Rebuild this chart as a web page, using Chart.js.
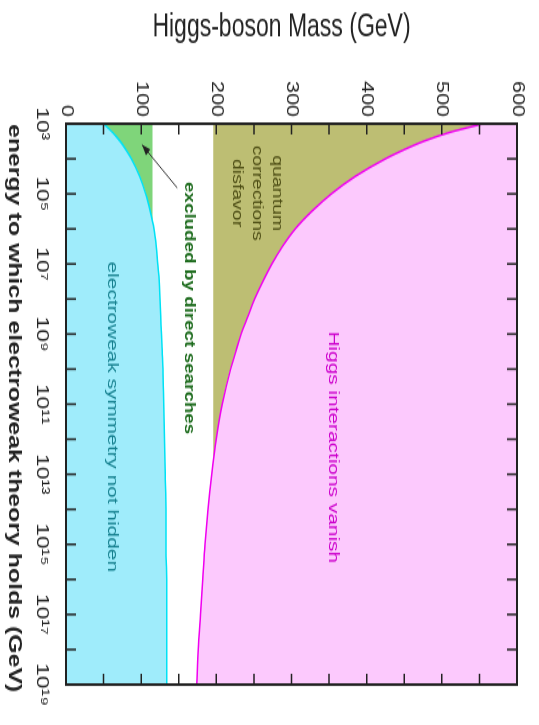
<!DOCTYPE html>
<html>
<head>
<meta charset="utf-8">
<title>Higgs-boson mass bounds</title>
<script src="https://cdn.jsdelivr.net/npm/chart.js@4/dist/chart.umd.min.js"></script>
<style>
  html, body { margin: 0; padding: 0; background: #fff; }
  body { width: 539px; height: 725px; overflow: hidden; position: relative; }
  /* the chart is drawn lying on its side, then turned a quarter and stretched */
  #wrap { position: absolute; left: 0; top: 0; width: 539px; height: 539px;
          transform-origin: 0 0; transform: translateX(539px) rotate(90deg) scaleX(1.345); }
</style>
</head>
<body>
<div id="wrap"><canvas id="higgsChart" width="539" height="539"></canvas></div>
<script>
// energy up to which the theory holds, as powers of ten (GeV)
const energyExp = [3, 3.25, 3.5, 3.75, 4, 4.5, 5, 5.5, 6, 6.5, 7, 7.5, 8, 8.5, 9, 9.5, 10, 11, 12, 13, 14, 15, 16, 17, 18, 19];
// lower bound - below it electroweak symmetry is not hidden
const vacuumMass = [50, 62, 72, 80, 87, 98, 106, 112, 117, 120, 122, 124, 125, 126, 127, 128, 129, 130, 131, 132, 133, 133, 134, 134, 134, 134];
// upper bound - above it the Higgs interactions vanish
const trivialityMass = [555, 510, 476, 449, 425, 385, 353, 327, 305, 288, 274, 262, 251, 242, 233, 226, 219, 208, 200, 194, 189, 185, 182, 179, 176, 174];

// flat limits
const limitExp = [3, 19];
const directSearchMass = [115, 115];
const quantumMass = [196, 196];

// ticks
const massTicks = [0, 100, 200, 300, 400, 500, 600];
const energyTickExp = [3, 4, 5, 6, 7, 8, 9, 10, 11, 12, 13, 14, 15, 16, 17, 18, 19];
const energyLabelExp = [3, 5, 7, 9, 11, 13, 15, 17, 19];
const energyLabels = ['10³', '10⁵', '10⁷', '10⁹', '10¹¹', '10¹³', '10¹⁵', '10¹⁷', '10¹⁹'];

const massTitle = 'Higgs-boson Mass (GeV)';
const energyTitle = 'energy to which electroweak theory holds (GeV)';

const FONT = '"Liberation Sans", Arial, sans-serif';

function pts(exps, masses) {
  return exps.map((e, i) => ({ x: Math.pow(10, e), y: masses[i] }));
}

// labels inside the regions, placed in data units (log10 energy, mass)
const notes = [
  { lines: ['electroweak symmetry not hidden'], e: 11.36, m: 62, color: '#16808f', font: '15.5px ' + FONT },
  { lines: ['excluded by direct searches'], e: 8.26, m: 164, color: '#1d6b1d', font: 'bold 14px ' + FONT },
  { lines: ['quantum', 'corrections', 'disfavor'], e: 4.98, m: 254, color: '#4d4d14', font: '14.5px ' + FONT },
  { lines: ['Higgs interactions vanish'], e: 12.23, m: 355, color: '#cc00cc', font: '15.5px ' + FONT }
];

const decorate = {
  id: 'decorate',
  afterDatasetsDraw(chart) {
    const { ctx, chartArea: a, scales: { x, y } } = chart;
    ctx.save();

    // ticks pointing into the frame
    ctx.strokeStyle = '#222';
    ctx.lineWidth = 1.5;
    ctx.beginPath();
    energyTickExp.forEach(e => {
      const px = x.getPixelForValue(Math.pow(10, e));
      ctx.moveTo(px, a.bottom); ctx.lineTo(px, a.bottom - 10);
      ctx.moveTo(px, a.top); ctx.lineTo(px, a.top + 10);
    });
    y.ticks.forEach(t => {
      const py = y.getPixelForValue(t.value);
      ctx.moveTo(a.left, py); ctx.lineTo(a.left + 8, py);
      ctx.moveTo(a.right, py); ctx.lineTo(a.right - 8, py);
    });
    ctx.stroke();
    ctx.lineWidth = 2;
    ctx.strokeRect(a.left, a.top, a.right - a.left, a.bottom - a.top);

    // arrow from the "excluded" label to the green patch
    const x0 = x.getPixelForValue(Math.pow(10, 4.83)), y0 = y.getPixelForValue(148);
    const x1 = x.getPixelForValue(Math.pow(10, 3.6)), y1 = y.getPixelForValue(101);
    const ang = Math.atan2(y1 - y0, x1 - x0);
    ctx.strokeStyle = '#333';
    ctx.fillStyle = '#222';
    ctx.lineWidth = 1;
    ctx.beginPath(); ctx.moveTo(x0, y0); ctx.lineTo(x1, y1); ctx.stroke();
    ctx.beginPath();
    ctx.moveTo(x1, y1);
    ctx.lineTo(x1 - 9 * Math.cos(ang - 0.35), y1 - 9 * Math.sin(ang - 0.35));
    ctx.lineTo(x1 - 9 * Math.cos(ang + 0.35), y1 - 9 * Math.sin(ang + 0.35));
    ctx.closePath(); ctx.fill();

    // region labels
    ctx.textAlign = 'center';
    ctx.textBaseline = 'middle';
    notes.forEach(n => {
      ctx.font = n.font;
      ctx.fillStyle = n.color;
      const cx = x.getPixelForValue(Math.pow(10, n.e));
      const cy = y.getPixelForValue(n.m);
      n.lines.forEach((s, i) => {
        ctx.fillText(s, cx, cy + (i - (n.lines.length - 1) / 2) * 20);
      });
    });

    // axis titles
    ctx.fillStyle = '#222';
    ctx.font = '23px ' + FONT;
    ctx.save();
    ctx.translate(21, (a.top + a.bottom) / 2 + 10);
    ctx.rotate(-Math.PI / 2);
    ctx.fillText(massTitle, 0, 0);
    ctx.restore();
    ctx.font = 'bold 18.5px ' + FONT;
    ctx.fillText(energyTitle, (a.left + a.right) / 2 + 3, 525);

    ctx.restore();
  }
};

new Chart(document.getElementById('higgsChart'), {
  type: 'line',
  data: {
    datasets: [
      { data: pts(energyExp, vacuumMass), borderColor: '#00e2f5', borderWidth: 1.5,
        backgroundColor: '#9fecfb', fill: 'origin', cubicInterpolationMode: 'monotone' },
      { data: pts(limitExp, directSearchMass), borderWidth: 0, borderColor: 'rgba(0,0,0,0)',
        fill: { target: 0, above: '#7fd57a', below: 'rgba(0,0,0,0)' } },
      { data: pts(energyExp, trivialityMass), borderColor: '#f000f0', borderWidth: 1.5,
        backgroundColor: '#fcc9fd', fill: 'end', cubicInterpolationMode: 'monotone' },
      { data: pts(limitExp, quantumMass), borderWidth: 0, borderColor: 'rgba(0,0,0,0)',
        fill: { target: 2, above: 'rgba(0,0,0,0)', below: '#bdbe73' } }
    ]
  },
  options: {
    responsive: false,
    animation: false,
    layout: { padding: { top: 22, right: 30, left: 0, bottom: 0 } },
    elements: { point: { radius: 0 } },
    plugins: { legend: { display: false }, tooltip: { enabled: false } },
    scales: {
      x: {
        type: 'logarithmic', min: 1e3, max: 1e19,
        grid: { display: false, drawTicks: false }, border: { display: false },
        afterBuildTicks: s => { s.ticks = energyTickExp.map(e => ({ value: Math.pow(10, e) })); },
        afterFit: s => { s.height = 66; },
        ticks: {
          autoSkip: false, maxRotation: 0, minRotation: 0, padding: 14, color: '#222',
          font: { family: FONT, size: 17 },
          callback: v => {
            const i = energyLabelExp.indexOf(Math.round(Math.log10(v)));
            return i < 0 ? '' : energyLabels[i];
          }
        }
      },
      y: {
        min: 0, max: 600,
        grid: { display: false, drawTicks: false }, border: { display: false },
        afterFit: s => { s.width = 92; },
        ticks: {
          stepSize: 50, autoSkip: false, padding: 5, color: '#222',
          font: { family: FONT, size: 16 },
          callback: v => massTicks.includes(v) ? String(v) : ''
        }
      }
    }
  },
  plugins: [decorate]
});
</script>
</body>
</html>
